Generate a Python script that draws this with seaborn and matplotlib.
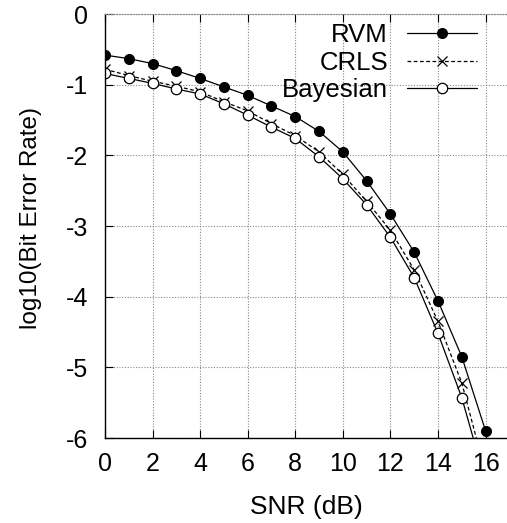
import matplotlib
matplotlib.use("Agg")
import matplotlib.pyplot as plt
import seaborn as sns

# values
snr = list(range(0, 17))
rvm = [-0.58, -0.63, -0.70, -0.80, -0.91, -1.03, -1.15, -1.30, -1.45, -1.66,
       -1.95, -2.36, -2.83, -3.37, -4.06, -4.85, -5.90]
crls = [-0.78, -0.87, -0.95, -1.02, -1.10, -1.24, -1.37, -1.55, -1.72, -1.95,
        -2.27, -2.65, -3.06, -3.62, -4.35, -5.22, -6.50]
bayes = [-0.84, -0.91, -0.98, -1.06, -1.13, -1.27, -1.43, -1.60, -1.76, -2.02,
         -2.33, -2.70, -3.16, -3.73, -4.52, -5.43, -6.62]
x_ticks = list(range(0, 17, 2))
y_ticks = list(range(-6, 1))

sns.set_style("ticks")
plt.rcParams["font.family"] = ["Liberation Sans", "DejaVu Sans"]
plt.rcParams["axes.unicode_minus"] = False
# gnuplot-like pure black text
for key in ["text.color", "axes.labelcolor", "xtick.color", "ytick.color"]:
    plt.rcParams[key] = "black"

fig = plt.figure(figsize=(5.07, 5.23), dpi=100)
ax = fig.add_axes([0.207, 0.1625, 0.793, 0.8105])

sns.lineplot(x=snr, y=rvm, ax=ax, color="black", lw=0.9, marker="o",
             markersize=7.2, markerfacecolor="black", markeredgecolor="black",
             label="RVM")
sns.lineplot(x=snr, y=crls, ax=ax, color="black", lw=0.9, marker="x",
             markersize=7, markeredgewidth=0.9, markeredgecolor="black",
             label="CRLS")
sns.lineplot(x=snr, y=bayes, ax=ax, color="black", lw=0.9, marker="o",
             markersize=7.5, markerfacecolor="white", markeredgecolor="black",
             markeredgewidth=0.9, label="Bayesian")
ax.lines[1].set_linestyle((0, (3, 2)))

ax.set_xlim(0, 16.9)
ax.set_ylim(-6, 0)
ax.set_xticks(x_ticks)
ax.set_yticks(y_ticks)
ax.tick_params(direction="in", length=6, width=0.8, labelsize=18,
               top=True, right=False)
ax.tick_params(axis="x", pad=10)
ax.tick_params(axis="y", pad=12)
ax.grid(True, linestyle=(0, (1, 1.5)), color="#888888", lw=0.8)

for side in ["left", "bottom"]:
    ax.spines[side].set_color("black")
    ax.spines[side].set_linewidth(1.0)
ax.spines["right"].set_visible(False)
ax.spines["top"].set_linestyle((0, (1, 1.5)))
ax.spines["top"].set_color("#888888")
ax.spines["top"].set_linewidth(0.8)

ax.set_xlabel("SNR (dB)", fontsize=19)
ax.set_ylabel("log10(Bit Error Rate)", fontsize=17.5)
ax.xaxis.set_label_coords(0.5, -0.134)
ax.yaxis.set_label_coords(-0.157, 0.52)

leg = ax.legend(loc="upper right", bbox_to_anchor=(0.925, 0.978), frameon=False,
                markerfirst=False, fontsize=18.5, handlelength=2.72,
                handletextpad=0.74, labelspacing=0.13, borderpad=0,
                borderaxespad=0)

fig.savefig("out.png", dpi=100)
